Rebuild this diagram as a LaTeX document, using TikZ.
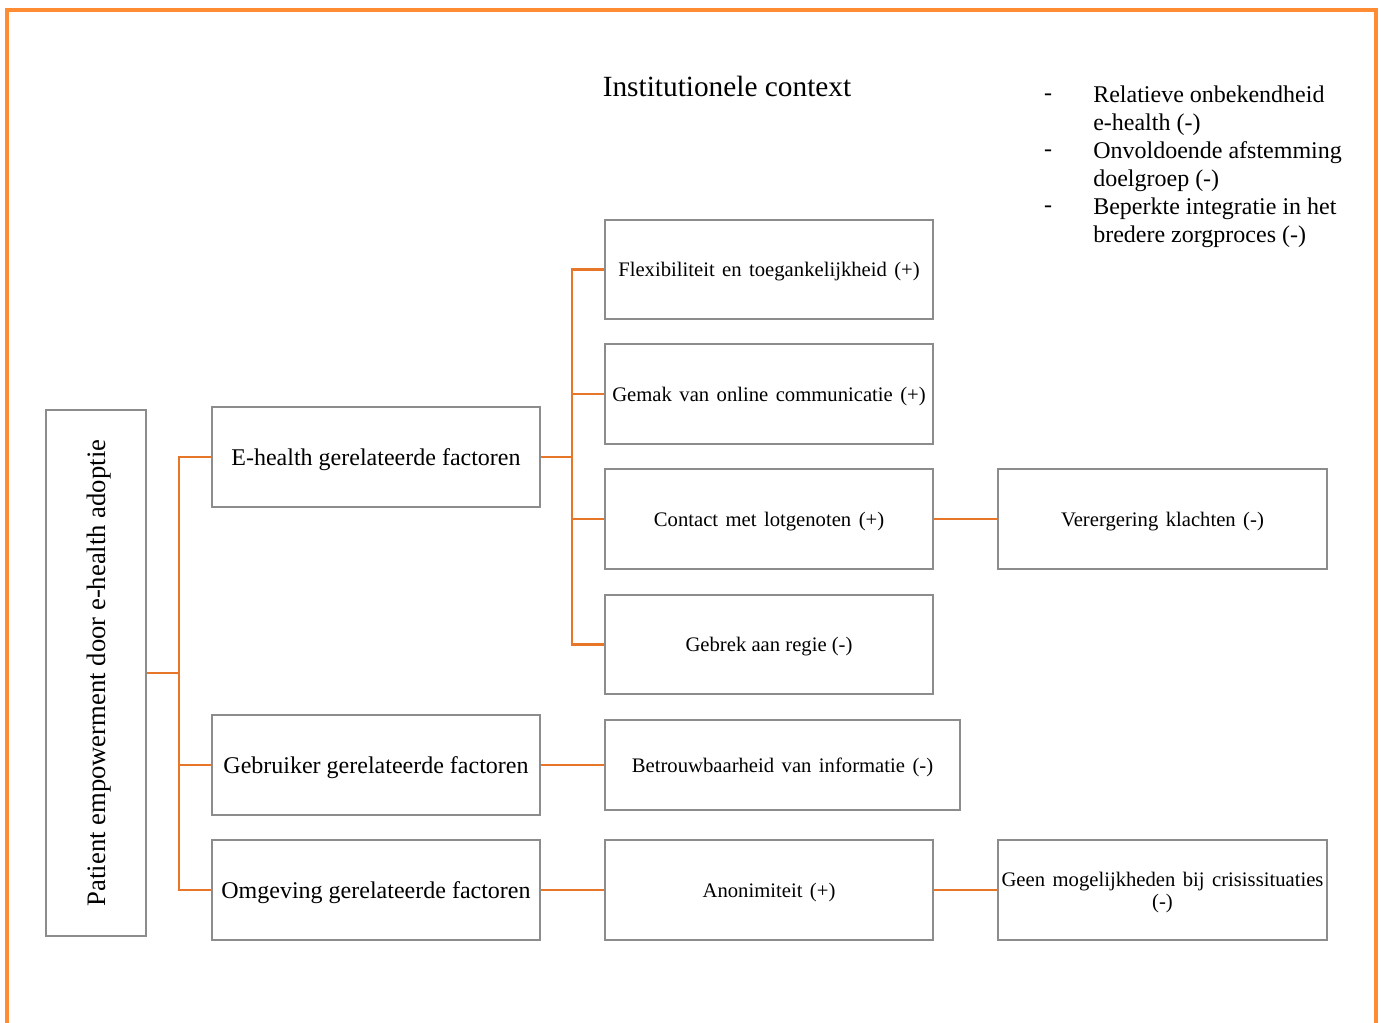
\documentclass[tikz,border=0pt]{standalone}
\usepackage{fontspec}
\setmainfont{Liberation Serif}
\definecolor{frameor}{RGB}{255,140,50}
\definecolor{linkor}{RGB}{232,118,40}
\definecolor{boxgray}{RGB}{140,140,140}
\newcommand{\wsp}{\hspace{0.36em}}
\tikzset{
  boxbase/.style={draw=boxgray, line width=0.9pt, fill=white, inner sep=1pt, align=center},
  bigbox/.style={boxbase, minimum width=328*0.75pt, minimum height=100*0.75pt, text depth=0pt, font=\fontsize{18}{21}\selectfont},
  smallbox/.style={boxbase, minimum width=328*0.75pt, minimum height=100*0.75pt, text depth=0pt, font=\fontsize{15.5}{16.5}\selectfont},
  link/.style={draw=linkor, line width=2.1pt},
  framestyle/.style={draw=frameor, line width=2.3pt},
  listtext/.style={font=\fontsize{18}{21}\selectfont, inner sep=0pt},
}
\begin{document}
\begin{tikzpicture}[x=0.75pt,y=-0.75pt]
\useasboundingbox (0,0) rectangle (1381,1022);
% outer frame (open at bottom)
\draw[framestyle] (7,1030) -- (7,10) -- (1376,10) -- (1376,1030);

% title
\node[font=\fontsize{22}{26}\selectfont, inner sep=0pt] (title) at (727,86) {Institutionele context};

% list
\node[listtext] (d1) at (1048,97) {-};
\node[listtext] (d2) at (1048,153) {-};
\node[listtext] (d3) at (1048,209) {-};
\node[listtext, anchor=west, align=left] (l1) at (1093,111) {Relatieve onbekendheid\\e-health (-)};
\node[listtext, anchor=west, align=left] (l2) at (1093,167) {Onvoldoende afstemming\\doelgroep (-)};
\node[listtext, anchor=west, align=left] (l3) at (1093,223) {Beperkte integratie in het\\bredere zorgproces (-)};

% main vertical box
\node[boxbase, minimum width=100*0.75pt, minimum height=526*0.75pt] (P) at (96,673) {};
\node[rotate=90, font=\fontsize{20}{24}\selectfont, inner sep=0pt, text depth=0pt] (Ptext) at (P.center) {Patient empowerment door e-health adoptie};

% level 1
\node[bigbox] (E) at (376,457) {E-health gerelateerde factoren};
\node[bigbox] (Gb) at (376,765) {Gebruiker gerelateerde factoren};
\node[bigbox] (Om) at (376,890) {Omgeving gerelateerde factoren};

% level 2
\node[smallbox, minimum height=99*0.75pt] (Fl) at (769,269.5) {Flexibiliteit\wsp en\wsp toegankelijkheid\wsp (+)};
\node[smallbox] (Ge) at (769,394) {Gemak\wsp van\wsp online\wsp communicatie\wsp (+)};
\node[smallbox] (Co) at (769,519) {Contact\wsp met\wsp lotgenoten\wsp (+)};
\node[smallbox, minimum height=99*0.75pt] (Gr) at (769,644.5) {Gebrek aan regie (-)};
\node[smallbox, minimum width=355*0.75pt, minimum height=90*0.75pt] (Bt) at (782.5,765) {Betrouwbaarheid\wsp van\wsp informatie\wsp (-)};
\node[smallbox] (An) at (769,890) {Anonimiteit\wsp (+)};

% level 3
\node[smallbox, minimum width=329*0.75pt] (Ve) at (1162.5,519) {Verergering\wsp klachten\wsp (-)};
\node[smallbox, minimum width=329*0.75pt] (Gn) at (1162.5,890) {Geen\wsp mogelijkheden\wsp bij\wsp crisissituaties\\(-)};

% junctions
\coordinate (J1) at (179,673);
\coordinate (J2) at (572,457);

% connectors
\draw[link] (P.east) -- (J1);
\draw[link] (J1) |- (E.west);
\draw[link] (J1) |- (Gb.west);
\draw[link] (J1) |- (Om.west);
\draw[link] (E.east) -- (J2);
\draw[link] (J2) |- (Fl.west);
\draw[link] (J2) |- (Ge.west);
\draw[link] (J2) |- (Co.west);
\draw[link] (J2) |- (Gr.west);
\draw[link] (Gb.east) -- (Bt.west);
\draw[link] (Om.east) -- (An.west);
\draw[link] (Co.east) -- (Ve.west);
\draw[link] (An.east) -- (Gn.west);
\end{tikzpicture}
\end{document}
